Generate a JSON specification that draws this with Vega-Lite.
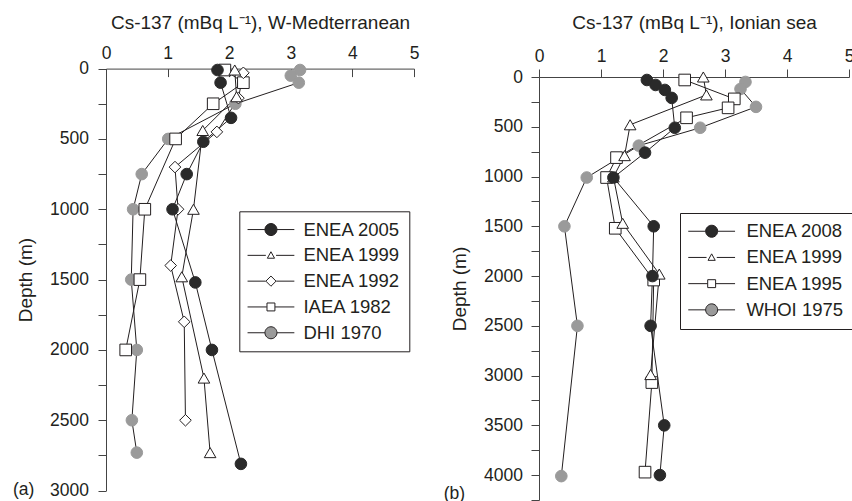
{
  "$schema": "https://vega.github.io/schema/vega-lite/v6.json",
  "background": "white",
  "padding": {"left": 13, "top": 13, "right": 0, "bottom": 0},
  "config": {
    "font": "Liberation Sans",
    "view": {"stroke": null},
    "axis": {"grid": false, "domainColor": "#444444", "tickColor": "#444444", "labelColor": "#231f20", "titleColor": "#231f20", "labelFontSize": 17.5, "titleFontSize": 19, "titleFontWeight": "normal", "labelFont": "Liberation Sans", "titleFont": "Liberation Sans", "domainWidth": 1, "tickWidth": 1, "labelFlush": false, "labelOverlap": false},
    "legend": {"symbolStrokeWidth": 1, "symbolOpacity": 1}
  },
  "datasets": {
    "wmed": [
      {"series": "DHI 1970", "cs": 3.15, "depth": 10},
      {"series": "DHI 1970", "cs": 3.0, "depth": 50},
      {"series": "DHI 1970", "cs": 3.13, "depth": 100},
      {"series": "DHI 1970", "cs": 2.1, "depth": 250},
      {"series": "DHI 1970", "cs": 1.01, "depth": 500},
      {"series": "DHI 1970", "cs": 0.58, "depth": 750},
      {"series": "DHI 1970", "cs": 0.44, "depth": 1000},
      {"series": "DHI 1970", "cs": 0.41, "depth": 1500},
      {"series": "DHI 1970", "cs": 0.5, "depth": 2000},
      {"series": "DHI 1970", "cs": 0.42, "depth": 2500},
      {"series": "DHI 1970", "cs": 0.5, "depth": 2730},
      {"series": "IAEA 1982", "cs": 1.93, "depth": 10},
      {"series": "IAEA 1982", "cs": 2.23, "depth": 100},
      {"series": "IAEA 1982", "cs": 1.74, "depth": 250},
      {"series": "IAEA 1982", "cs": 1.13, "depth": 500},
      {"series": "IAEA 1982", "cs": 0.63, "depth": 1000},
      {"series": "IAEA 1982", "cs": 0.55, "depth": 1500},
      {"series": "IAEA 1982", "cs": 0.32, "depth": 2000},
      {"series": "ENEA 1992", "cs": 2.23, "depth": 30},
      {"series": "ENEA 1992", "cs": 2.15, "depth": 210},
      {"series": "ENEA 1992", "cs": 1.8, "depth": 450},
      {"series": "ENEA 1992", "cs": 1.12, "depth": 700},
      {"series": "ENEA 1992", "cs": 1.17, "depth": 1000},
      {"series": "ENEA 1992", "cs": 1.05, "depth": 1400},
      {"series": "ENEA 1992", "cs": 1.27, "depth": 1800},
      {"series": "ENEA 1992", "cs": 1.29, "depth": 2500},
      {"series": "ENEA 1999", "cs": 2.09, "depth": 10},
      {"series": "ENEA 1999", "cs": 2.12, "depth": 200},
      {"series": "ENEA 1999", "cs": 1.57, "depth": 440},
      {"series": "ENEA 1999", "cs": 1.42, "depth": 1000},
      {"series": "ENEA 1999", "cs": 1.23, "depth": 1480},
      {"series": "ENEA 1999", "cs": 1.59, "depth": 2200},
      {"series": "ENEA 1999", "cs": 1.69, "depth": 2730},
      {"series": "ENEA 2005", "cs": 1.81, "depth": 10},
      {"series": "ENEA 2005", "cs": 1.86, "depth": 100},
      {"series": "ENEA 2005", "cs": 2.03, "depth": 350},
      {"series": "ENEA 2005", "cs": 1.58, "depth": 520},
      {"series": "ENEA 2005", "cs": 1.31, "depth": 750},
      {"series": "ENEA 2005", "cs": 1.08, "depth": 1000},
      {"series": "ENEA 2005", "cs": 1.45, "depth": 1520},
      {"series": "ENEA 2005", "cs": 1.72, "depth": 2000},
      {"series": "ENEA 2005", "cs": 2.19, "depth": 2810}
    ],
    "ionian": [
      {"series": "WHOI 1975", "cs": 3.33, "depth": 50},
      {"series": "WHOI 1975", "cs": 3.25, "depth": 120},
      {"series": "WHOI 1975", "cs": 3.5, "depth": 300},
      {"series": "WHOI 1975", "cs": 2.6, "depth": 510},
      {"series": "WHOI 1975", "cs": 1.61, "depth": 690},
      {"series": "WHOI 1975", "cs": 0.77, "depth": 1010},
      {"series": "WHOI 1975", "cs": 0.41, "depth": 1500},
      {"series": "WHOI 1975", "cs": 0.62, "depth": 2500},
      {"series": "WHOI 1975", "cs": 0.36, "depth": 4010},
      {"series": "ENEA 1995", "cs": 2.35, "depth": 30},
      {"series": "ENEA 1995", "cs": 3.15, "depth": 220},
      {"series": "ENEA 1995", "cs": 3.05, "depth": 310},
      {"series": "ENEA 1995", "cs": 2.38, "depth": 410},
      {"series": "ENEA 1995", "cs": 1.25, "depth": 810},
      {"series": "ENEA 1995", "cs": 1.09, "depth": 1010},
      {"series": "ENEA 1995", "cs": 1.23, "depth": 1520},
      {"series": "ENEA 1995", "cs": 1.85, "depth": 2040},
      {"series": "ENEA 1995", "cs": 1.82, "depth": 3070},
      {"series": "ENEA 1995", "cs": 1.71, "depth": 3970},
      {"series": "ENEA 1999", "cs": 2.65, "depth": 0},
      {"series": "ENEA 1999", "cs": 2.7, "depth": 180},
      {"series": "ENEA 1999", "cs": 1.47, "depth": 480},
      {"series": "ENEA 1999", "cs": 1.38, "depth": 790},
      {"series": "ENEA 1999", "cs": 1.2, "depth": 1005},
      {"series": "ENEA 1999", "cs": 1.35, "depth": 1470},
      {"series": "ENEA 1999", "cs": 1.94, "depth": 1980},
      {"series": "ENEA 1999", "cs": 1.8, "depth": 2990},
      {"series": "ENEA 2008", "cs": 1.74, "depth": 30},
      {"series": "ENEA 2008", "cs": 1.88, "depth": 80},
      {"series": "ENEA 2008", "cs": 2.03, "depth": 130},
      {"series": "ENEA 2008", "cs": 2.14, "depth": 210},
      {"series": "ENEA 2008", "cs": 2.19, "depth": 510},
      {"series": "ENEA 2008", "cs": 1.71, "depth": 760},
      {"series": "ENEA 2008", "cs": 1.2, "depth": 1010},
      {"series": "ENEA 2008", "cs": 1.85, "depth": 1500},
      {"series": "ENEA 2008", "cs": 1.83, "depth": 2000},
      {"series": "ENEA 2008", "cs": 1.8, "depth": 2500},
      {"series": "ENEA 2008", "cs": 2.02, "depth": 3500},
      {"series": "ENEA 2008", "cs": 1.95, "depth": 4000}
    ]
  },
  "spacing": 24,
  "resolve": {
    "scale": {"x": "independent", "y": "independent", "shape": "independent", "fill": "independent", "stroke": "independent"},
    "legend": {"shape": "independent", "fill": "independent", "stroke": "independent"}
  },
  "hconcat": [
    {
      "width": 308,
      "height": 414,
      "data": {"name": "wmed"},
      "title": {"text": "(a)", "orient": "bottom", "anchor": "start", "frame": "group", "offset": 0, "dx": -93, "dy": -9, "baseline": "middle", "fontSize": 17.5, "fontWeight": "normal", "color": "#231f20", "font": "Liberation Sans"},
      "encoding": {
        "x": {
          "field": "cs", "type": "quantitative",
          "scale": {"domain": [0, 5], "nice": false, "zero": false},
          "axis": {
            "orient": "top", "title": "Cs-137 (mBq L⁻¹), W-Medterranean",
            "values": [0, 0.5, 1, 1.5, 2, 2.5, 3, 3.5, 4, 4.5, 5],
            "format": "d",
            "labelExpr": "datum.value % 1 === 0 ? datum.label : ''",
            "offset": 8.4,
            "tickSize": -8, "labelPadding": 14, "titlePadding": 12.5,
            "encode": {"ticks": {"y2": {"value": {"expr": "datum.value % 1 === 0 ? 8 : 4"}}}}
          }
        },
        "y": {
          "field": "depth", "type": "quantitative",
          "scale": {"domain": [0, 3000], "range": [-8.4, 413.6], "nice": false, "zero": false},
          "axis": {
            "orient": "left", "title": "Depth (m)",
            "values": [0, 250, 500, 750, 1000, 1250, 1500, 1750, 2000, 2250, 2500, 2750, 3000],
            "format": "d",
            "labelExpr": "datum.value % 500 === 0 ? datum.label : ''",
            "tickSize": 8, "labelPadding": 9.5, "titlePadding": 14.5,
            "encode": {"ticks": {"x2": {"value": {"expr": "datum.value % 500 === 0 ? -8 : -5"}}}}
          }
        }
      },
      "layer": [
        {
          "mark": {"type": "line", "color": "#231f20", "strokeWidth": 1},
          "encoding": {
            "detail": {"field": "series", "type": "nominal"},
            "order": {"field": "depth", "type": "quantitative"}
          }
        },
        {
          "mark": {"type": "point", "filled": true, "opacity": 1, "strokeWidth": 1, "size": 135},
          "encoding": {
            "shape": {
              "field": "series", "type": "nominal",
              "scale": {"domain": ["ENEA 2005", "ENEA 1999", "ENEA 1992", "IAEA 1982", "DHI 1970"], "range": ["circle", "triangle-up", "diamond", "square", "circle"]},
              "legend": null
            },
            "fill": {
              "field": "series", "type": "nominal",
              "scale": {"domain": ["ENEA 2005", "ENEA 1999", "ENEA 1992", "IAEA 1982", "DHI 1970"], "range": ["#2a2a2a", "white", "white", "white", "#9a9a9a"]},
              "legend": null
            },
            "stroke": {
              "field": "series", "type": "nominal",
              "scale": {"domain": ["ENEA 2005", "ENEA 1999", "ENEA 1992", "IAEA 1982", "DHI 1970"], "range": ["#2a2a2a", "#231f20", "#231f20", "#231f20", "#9a9a9a"]},
              "legend": null
            }
          }
        },
        {
          "transform": [{"filter": "false"}],
          "mark": {"type": "point", "filled": true, "opacity": 1, "strokeWidth": 1, "size": 144},
          "encoding": {
            "shape": {
              "field": "series", "type": "nominal",
              "scale": {"domain": ["ENEA 2005", "ENEA 1999", "ENEA 1992", "IAEA 1982", "DHI 1970"], "range": [
                "M-3.9,0H-1M1,0H3.9M1,0A1,1,0,1,1,-1,0A1,1,0,1,1,1,0Z",
                "M-3.9,0H-0.85M0.85,0H3.9M-0.6,0.48L0,-0.6L0.6,0.48Z",
                "M-3.9,0H-0.88M0.88,0H3.9M-0.85,0L0,-0.85L0.85,0L0,0.85Z",
                "M-3.9,0H-0.68M0.68,0H3.9M-0.66,-0.66H0.66V0.66H-0.66Z",
                "M-3.9,0H-1M1,0H3.9M1,0A1,1,0,1,1,-1,0A1,1,0,1,1,1,0Z"
              ]},
              "legend": {
                "orient": "none", "legendX": 133.3, "legendY": 134.3, "title": null,
                "strokeColor": "#231f20", "fillColor": "white", "padding": 9,
                "labelFontSize": 18.5, "labelFont": "Liberation Sans", "labelColor": "#231f20",
                "symbolSize": 144, "symbolOffset": 13.4, "labelOffset": 23.2, "rowPadding": 6.8, "symbolStrokeWidth": 1
              }
            },
            "fill": {
              "field": "series", "type": "nominal",
              "scale": {"domain": ["ENEA 2005", "ENEA 1999", "ENEA 1992", "IAEA 1982", "DHI 1970"], "range": ["#2a2a2a", "white", "white", "white", "#9a9a9a"]},
              "legend": {
                "orient": "none", "legendX": 133.3, "legendY": 134.3, "title": null,
                "strokeColor": "#231f20", "fillColor": "white", "padding": 9,
                "labelFontSize": 18.5, "labelFont": "Liberation Sans", "labelColor": "#231f20",
                "symbolSize": 144, "symbolOffset": 13.4, "labelOffset": 23.2, "rowPadding": 6.8, "symbolStrokeWidth": 1
              }
            },
            "stroke": {
              "field": "series", "type": "nominal",
              "scale": {"domain": ["ENEA 2005", "ENEA 1999", "ENEA 1992", "IAEA 1982", "DHI 1970"], "range": ["#231f20", "#231f20", "#231f20", "#231f20", "#231f20"]},
              "legend": {
                "orient": "none", "legendX": 133.3, "legendY": 134.3, "title": null,
                "strokeColor": "#231f20", "fillColor": "white", "padding": 9,
                "labelFontSize": 18.5, "labelFont": "Liberation Sans", "labelColor": "#231f20",
                "symbolSize": 144, "symbolOffset": 13.4, "labelOffset": 23.2, "rowPadding": 6.8, "symbolStrokeWidth": 1
              }
            }
          }
        }
      ],
      "resolve": {
        "scale": {"shape": "independent", "fill": "independent", "stroke": "independent"},
        "legend": {"shape": "independent", "fill": "independent", "stroke": "independent"}
      }
    },
    {
      "width": 310,
      "height": 423,
      "data": {"name": "ionian"},
      "title": {"text": "(b)", "orient": "bottom", "anchor": "start", "frame": "group", "offset": 0, "dx": -95.3, "dy": -15, "baseline": "middle", "fontSize": 17.5, "fontWeight": "normal", "color": "#231f20", "font": "Liberation Sans"},
      "encoding": {
        "x": {
          "field": "cs", "type": "quantitative",
          "scale": {"domain": [0, 5], "nice": false, "zero": false},
          "axis": {
            "orient": "top", "title": "Cs-137 (mBq L⁻¹), Ionian sea",
            "values": [0, 0.5, 1, 1.5, 2, 2.5, 3, 3.5, 4, 4.5, 5],
            "format": "d",
            "labelExpr": "datum.value % 1 === 0 ? datum.label : ''",
            "tickSize": 8, "labelPadding": 3.7, "titlePadding": 15,
            "encode": {"ticks": {"y2": {"value": {"expr": "datum.value % 1 === 0 ? -8 : -5"}}}}
          }
        },
        "y": {
          "field": "depth", "type": "quantitative",
          "scale": {"domain": [0, 4250], "reverse": true, "nice": false, "zero": false},
          "axis": {
            "orient": "left", "title": "Depth (m)",
            "values": [0, 250, 500, 750, 1000, 1250, 1500, 1750, 2000, 2250, 2500, 2750, 3000, 3250, 3500, 3750, 4000, 4250],
            "format": "d",
            "labelExpr": "datum.value % 500 === 0 ? datum.label : ''",
            "tickSize": 8, "labelPadding": 8.6, "titlePadding": 14,
            "encode": {"ticks": {"x2": {"value": {"expr": "datum.value % 500 === 0 ? -8 : -5"}}}}
          }
        }
      },
      "layer": [
        {
          "mark": {"type": "line", "color": "#231f20", "strokeWidth": 1},
          "encoding": {
            "detail": {"field": "series", "type": "nominal"},
            "order": {"field": "depth", "type": "quantitative"}
          }
        },
        {
          "mark": {"type": "point", "filled": true, "opacity": 1, "strokeWidth": 1, "size": 135},
          "encoding": {
            "shape": {
              "field": "series", "type": "nominal",
              "scale": {"domain": ["ENEA 2008", "ENEA 1999", "ENEA 1995", "WHOI 1975"], "range": ["circle", "triangle-up", "square", "circle"]},
              "legend": null
            },
            "fill": {
              "field": "series", "type": "nominal",
              "scale": {"domain": ["ENEA 2008", "ENEA 1999", "ENEA 1995", "WHOI 1975"], "range": ["#2a2a2a", "white", "white", "#9a9a9a"]},
              "legend": null
            },
            "stroke": {
              "field": "series", "type": "nominal",
              "scale": {"domain": ["ENEA 2008", "ENEA 1999", "ENEA 1995", "WHOI 1975"], "range": ["#2a2a2a", "#231f20", "#231f20", "#9a9a9a"]},
              "legend": null
            }
          }
        },
        {
          "transform": [{"filter": "false"}],
          "mark": {"type": "point", "filled": true, "opacity": 1, "strokeWidth": 1, "size": 144},
          "encoding": {
            "shape": {
              "field": "series", "type": "nominal",
              "scale": {"domain": ["ENEA 2008", "ENEA 1999", "ENEA 1995", "WHOI 1975"], "range": [
                "M-3.9,0H-1M1,0H3.9M1,0A1,1,0,1,1,-1,0A1,1,0,1,1,1,0Z",
                "M-3.9,0H-0.85M0.85,0H3.9M-0.6,0.48L0,-0.6L0.6,0.48Z",
                "M-3.9,0H-0.68M0.68,0H3.9M-0.66,-0.66H0.66V0.66H-0.66Z",
                "M-3.9,0H-1M1,0H3.9M1,0A1,1,0,1,1,-1,0A1,1,0,1,1,1,0Z"
              ]},
              "legend": {
                "orient": "none", "legendX": 141, "legendY": 136, "title": null,
                "strokeColor": "#231f20", "fillColor": "white", "padding": 9,
                "labelFontSize": 18.5, "labelFont": "Liberation Sans", "labelColor": "#231f20",
                "symbolSize": 144, "symbolOffset": 13.4, "labelOffset": 25.5, "rowPadding": 7.2, "symbolStrokeWidth": 1
              }
            },
            "fill": {
              "field": "series", "type": "nominal",
              "scale": {"domain": ["ENEA 2008", "ENEA 1999", "ENEA 1995", "WHOI 1975"], "range": ["#2a2a2a", "white", "white", "#9a9a9a"]},
              "legend": {
                "orient": "none", "legendX": 141, "legendY": 136, "title": null,
                "strokeColor": "#231f20", "fillColor": "white", "padding": 9,
                "labelFontSize": 18.5, "labelFont": "Liberation Sans", "labelColor": "#231f20",
                "symbolSize": 144, "symbolOffset": 13.4, "labelOffset": 25.5, "rowPadding": 7.2, "symbolStrokeWidth": 1
              }
            },
            "stroke": {
              "field": "series", "type": "nominal",
              "scale": {"domain": ["ENEA 2008", "ENEA 1999", "ENEA 1995", "WHOI 1975"], "range": ["#231f20", "#231f20", "#231f20", "#231f20"]},
              "legend": {
                "orient": "none", "legendX": 141, "legendY": 136, "title": null,
                "strokeColor": "#231f20", "fillColor": "white", "padding": 9,
                "labelFontSize": 18.5, "labelFont": "Liberation Sans", "labelColor": "#231f20",
                "symbolSize": 144, "symbolOffset": 13.4, "labelOffset": 25.5, "rowPadding": 7.2, "symbolStrokeWidth": 1
              }
            }
          }
        }
      ],
      "resolve": {
        "scale": {"shape": "independent", "fill": "independent", "stroke": "independent"},
        "legend": {"shape": "independent", "fill": "independent", "stroke": "independent"}
      }
    }
  ]
}
